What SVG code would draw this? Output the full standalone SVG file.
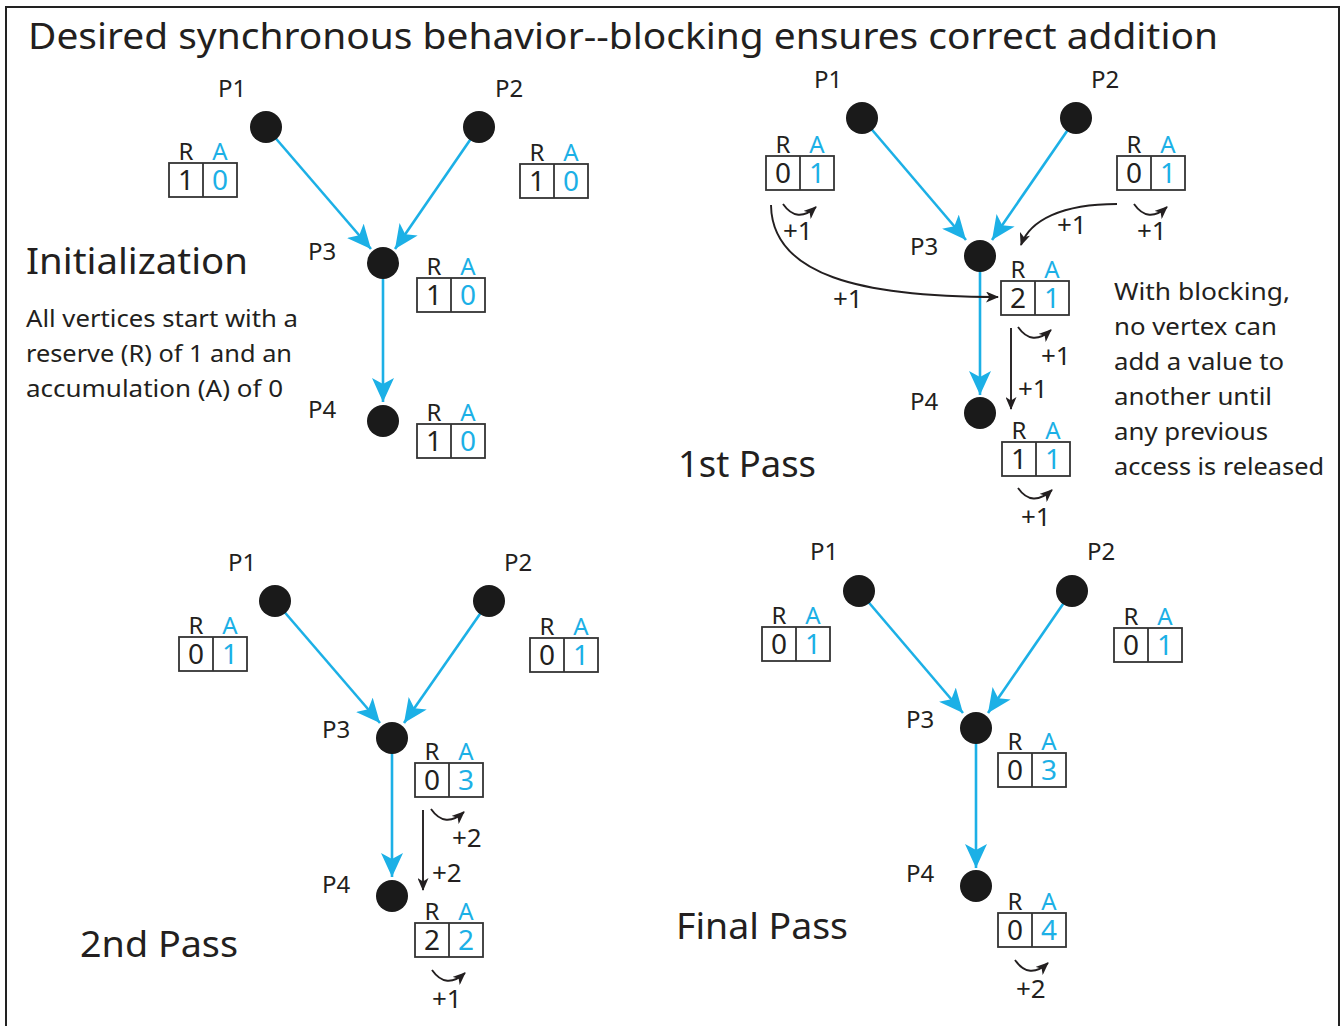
<svg xmlns="http://www.w3.org/2000/svg" width="1344" height="1026" viewBox="0 0 1344 1026">
<style>
text{font-family:"Noto Sans","Open Sans","Liberation Sans",sans-serif;fill:#231f20}
.title{font-size:37px}
.head{font-size:37px}
.body{font-size:24px}
.pl{font-size:24px}
.lbl{font-size:24px;text-anchor:middle}
.val{font-size:28px;text-anchor:middle}
.a{fill:#1cb0e6}
.inc{font-size:26px}
.box{fill:#fff;stroke:#333;stroke-width:1.8}
.div{stroke:#333;stroke-width:1.8}
.node{fill:#1a1a1a}
.cy{stroke:#1cb0e6;stroke-width:2.6;fill:none;marker-end:url(#cya)}
.bk{stroke:#231f20;stroke-width:1.9;fill:none;marker-end:url(#bka)}
</style>
<defs>
<marker id="cya" viewBox="0 0 24 22" refX="24" refY="11" markerWidth="24" markerHeight="22" markerUnits="userSpaceOnUse" orient="auto">
<path d="M24,11 L0,0 L6,11 L0,22 Z" fill="#1cb0e6"/>
</marker>
<marker id="bka" viewBox="0 0 13 11" refX="12" refY="5.5" markerWidth="13" markerHeight="11" markerUnits="userSpaceOnUse" orient="auto">
<path d="M13,5.5 L0,0 L3.5,5.5 L0,11 Z" fill="#231f20"/>
</marker>
<g id="boxbase">
<rect class="box" width="68" height="34"/>
<line class="div" x1="34" y1="0" x2="34" y2="34"/>
<text class="lbl" x="17" y="-3">R</text>
<text class="lbl a" x="51" y="-3">A</text>
</g>
</defs>
<rect x="6" y="7" width="1333" height="1040" fill="#fff" stroke="#222" stroke-width="2"/>
<text class="title" x="28" y="49" textLength="1190" lengthAdjust="spacingAndGlyphs">Desired synchronous behavior--blocking ensures correct addition</text>

<!-- Panel headings and notes -->
<text class="head" x="26" y="274" textLength="222" lengthAdjust="spacingAndGlyphs">Initialization</text>
<text class="body" x="26" y="327" textLength="272" lengthAdjust="spacingAndGlyphs">All vertices start with a</text>
<text class="body" x="26" y="362" textLength="266" lengthAdjust="spacingAndGlyphs">reserve (R) of 1 and an</text>
<text class="body" x="26" y="397" textLength="257" lengthAdjust="spacingAndGlyphs">accumulation (A) of 0</text>
<text class="head" x="678" y="477" textLength="138" lengthAdjust="spacingAndGlyphs">1st Pass</text>
<text class="body" x="1114" y="300" textLength="176" lengthAdjust="spacingAndGlyphs">With blocking,</text>
<text class="body" x="1114" y="335" textLength="163" lengthAdjust="spacingAndGlyphs">no vertex can</text>
<text class="body" x="1114" y="370" textLength="170" lengthAdjust="spacingAndGlyphs">add a value to</text>
<text class="body" x="1114" y="405" textLength="158" lengthAdjust="spacingAndGlyphs">another until</text>
<text class="body" x="1114" y="440" textLength="154" lengthAdjust="spacingAndGlyphs">any previous</text>
<text class="body" x="1114" y="475" textLength="210" lengthAdjust="spacingAndGlyphs">access is released</text>
<text class="head" x="80" y="957" textLength="158" lengthAdjust="spacingAndGlyphs">2nd Pass</text>
<text class="head" x="676" y="939" textLength="172" lengthAdjust="spacingAndGlyphs">Final Pass</text>

<!-- Connectors -->
<g id="connectors">
<!-- Panel 1 -->
<line class="cy" x1="266" y1="127" x2="371" y2="249"/>
<line class="cy" x1="479" y1="127" x2="395" y2="249"/>
<line class="cy" x1="383" y1="263" x2="383" y2="402"/>
<!-- Panel 2 -->
<line class="cy" x1="862" y1="118" x2="966" y2="240"/>
<line class="cy" x1="1076" y1="118" x2="992" y2="240"/>
<line class="cy" x1="980" y1="256" x2="980" y2="395"/>
<path class="bk" d="M771,205 C772,275 860,297 998,297"/>
<text class="inc" x="833" y="308">+1</text>
<path class="bk" d="M1117,204 C1062,204 1030,220 1021,245"/>
<text class="inc" x="1057" y="234">+1</text>
<path class="bk" d="M783,204 Q797,224 816,207"/>
<text class="inc" x="783" y="240">+1</text>
<path class="bk" d="M1134,204 Q1148,224 1167,207"/>
<text class="inc" x="1137" y="240">+1</text>
<path class="bk" d="M1018,327 Q1032,347 1051,330"/>
<text class="inc" x="1041" y="365">+1</text>
<path class="bk" d="M1011,328 L1011,409"/>
<text class="inc" x="1018" y="398">+1</text>
<path class="bk" d="M1018,488 Q1032,508 1052,490"/>
<text class="inc" x="1021" y="526">+1</text>
<!-- Panel 3 -->
<line class="cy" x1="275" y1="601" x2="380" y2="723"/>
<line class="cy" x1="489" y1="601" x2="404" y2="723"/>
<line class="cy" x1="392" y1="738" x2="392" y2="877"/>
<path class="bk" d="M431,809 Q445,829 464,812"/>
<text class="inc" x="452" y="847">+2</text>
<path class="bk" d="M423,810 L423,890"/>
<text class="inc" x="432" y="882">+2</text>
<path class="bk" d="M432,970 Q446,990 465,973"/>
<text class="inc" x="432" y="1008">+1</text>
<!-- Panel 4 -->
<line class="cy" x1="859" y1="591" x2="963" y2="713"/>
<line class="cy" x1="1072" y1="591" x2="988" y2="713"/>
<line class="cy" x1="976" y1="728" x2="976" y2="868"/>
<path class="bk" d="M1015,960 Q1029,980 1048,963"/>
<text class="inc" x="1016" y="998">+2</text>
</g>

<!-- Panel 1 nodes -->
<g id="init-p1"><circle class="node" cx="266" cy="127" r="16"/><text class="pl" x="218" y="97">P1</text>
<g transform="translate(169,163)"><use href="#boxbase"/><text class="val" x="17" y="27">1</text><text class="val a" x="51" y="27">0</text></g></g>
<g id="init-p2"><circle class="node" cx="479" cy="127" r="16"/><text class="pl" x="495" y="97">P2</text>
<g transform="translate(520,164)"><use href="#boxbase"/><text class="val" x="17" y="27">1</text><text class="val a" x="51" y="27">0</text></g></g>
<g id="init-p3"><circle class="node" cx="383" cy="263" r="16"/><text class="pl" x="308" y="260">P3</text>
<g transform="translate(417,278)"><use href="#boxbase"/><text class="val" x="17" y="27">1</text><text class="val a" x="51" y="27">0</text></g></g>
<g id="init-p4"><circle class="node" cx="383" cy="421" r="16"/><text class="pl" x="308" y="418">P4</text>
<g transform="translate(417,424)"><use href="#boxbase"/><text class="val" x="17" y="27">1</text><text class="val a" x="51" y="27">0</text></g></g>

<!-- Panel 2 nodes -->
<g id="p1st-p1"><circle class="node" cx="862" cy="118" r="16"/><text class="pl" x="814" y="88">P1</text>
<g transform="translate(766,156)"><use href="#boxbase"/><text class="val" x="17" y="27">0</text><text class="val a" x="51" y="27">1</text></g></g>
<g id="p1st-p2"><circle class="node" cx="1076" cy="118" r="16"/><text class="pl" x="1091" y="88">P2</text>
<g transform="translate(1117,156)"><use href="#boxbase"/><text class="val" x="17" y="27">0</text><text class="val a" x="51" y="27">1</text></g></g>
<g id="p1st-p3"><circle class="node" cx="980" cy="256" r="16"/><text class="pl" x="910" y="255">P3</text>
<g transform="translate(1001,281)"><use href="#boxbase"/><text class="val" x="17" y="27">2</text><text class="val a" x="51" y="27">1</text></g></g>
<g id="p1st-p4"><circle class="node" cx="980" cy="413" r="16"/><text class="pl" x="910" y="410">P4</text>
<g transform="translate(1002,442)"><use href="#boxbase"/><text class="val" x="17" y="27">1</text><text class="val a" x="51" y="27">1</text></g></g>

<!-- Panel 3 nodes -->
<g id="p2nd-p1"><circle class="node" cx="275" cy="601" r="16"/><text class="pl" x="228" y="571">P1</text>
<g transform="translate(179,637)"><use href="#boxbase"/><text class="val" x="17" y="27">0</text><text class="val a" x="51" y="27">1</text></g></g>
<g id="p2nd-p2"><circle class="node" cx="489" cy="601" r="16"/><text class="pl" x="504" y="571">P2</text>
<g transform="translate(530,638)"><use href="#boxbase"/><text class="val" x="17" y="27">0</text><text class="val a" x="51" y="27">1</text></g></g>
<g id="p2nd-p3"><circle class="node" cx="392" cy="738" r="16"/><text class="pl" x="322" y="738">P3</text>
<g transform="translate(415,763)"><use href="#boxbase"/><text class="val" x="17" y="27">0</text><text class="val a" x="51" y="27">3</text></g></g>
<g id="p2nd-p4"><circle class="node" cx="392" cy="896" r="16"/><text class="pl" x="322" y="893">P4</text>
<g transform="translate(415,923)"><use href="#boxbase"/><text class="val" x="17" y="27">2</text><text class="val a" x="51" y="27">2</text></g></g>

<!-- Panel 4 nodes -->
<g id="final-p1"><circle class="node" cx="859" cy="591" r="16"/><text class="pl" x="810" y="560">P1</text>
<g transform="translate(762,627)"><use href="#boxbase"/><text class="val" x="17" y="27">0</text><text class="val a" x="51" y="27">1</text></g></g>
<g id="final-p2"><circle class="node" cx="1072" cy="591" r="16"/><text class="pl" x="1087" y="560">P2</text>
<g transform="translate(1114,628)"><use href="#boxbase"/><text class="val" x="17" y="27">0</text><text class="val a" x="51" y="27">1</text></g></g>
<g id="final-p3"><circle class="node" cx="976" cy="728" r="16"/><text class="pl" x="906" y="728">P3</text>
<g transform="translate(998,753)"><use href="#boxbase"/><text class="val" x="17" y="27">0</text><text class="val a" x="51" y="27">3</text></g></g>
<g id="final-p4"><circle class="node" cx="976" cy="886" r="16"/><text class="pl" x="906" y="882">P4</text>
<g transform="translate(998,913)"><use href="#boxbase"/><text class="val" x="17" y="27">0</text><text class="val a" x="51" y="27">4</text></g></g>
</svg>
